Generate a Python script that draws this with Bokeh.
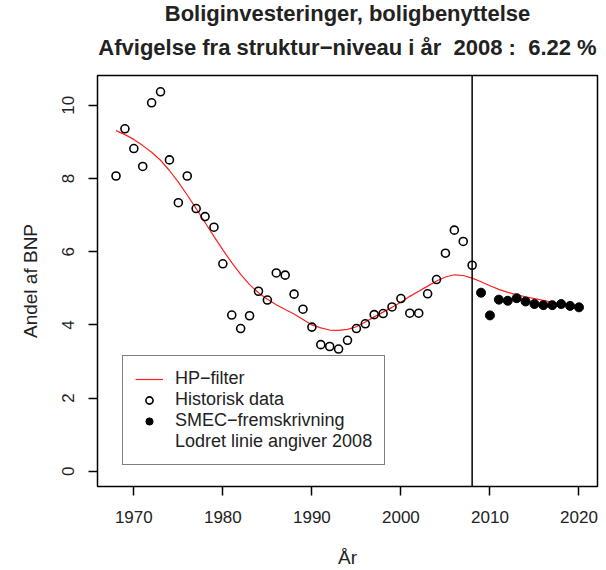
from bokeh.plotting import figure
from bokeh.models import Range1d, Span, Title, Legend, LegendItem, FixedTicker
from bokeh.embed import file_html
from bokeh.resources import INLINE

hist_years = list(range(1968, 2009))
hist_vals = [8.07, 9.36, 8.82, 8.33, 10.07, 10.37, 8.51, 7.34, 8.07, 7.18, 6.96, 6.67,
             5.67, 4.27, 3.90, 4.25, 4.92, 4.68, 5.42, 5.36, 4.84, 4.43, 3.94, 3.46,
             3.41, 3.34, 3.58, 3.90, 4.03, 4.28, 4.31, 4.49, 4.72, 4.32, 4.32, 4.85,
             5.24, 5.96, 6.59, 6.28, 5.63]
fc_years = list(range(2009, 2021))
fc_vals = [4.88, 4.26, 4.69, 4.66, 4.73, 4.64, 4.57, 4.54, 4.54, 4.57, 4.52, 4.48]
hp_years = list(range(1968, 2021))
hp_vals = [9.31, 9.20, 9.07, 8.90, 8.72, 8.50, 8.22, 7.90, 7.55, 7.18, 6.80, 6.42,
           6.05, 5.70, 5.38, 5.10, 4.88, 4.70, 4.55, 4.42, 4.30, 4.15, 4.00, 3.92,
           3.86, 3.85, 3.88, 3.95, 4.08, 4.22, 4.35, 4.48, 4.62, 4.78, 4.92, 5.06,
           5.20, 5.31, 5.37, 5.35, 5.28, 5.18, 5.07, 4.97, 4.89, 4.82, 4.77, 4.72,
           4.67, 4.62, 4.57, 4.51, 4.44]
x_ticks = [1970, 1980, 1990, 2000, 2010, 2020]
y_ticks = [0, 2, 4, 6, 8, 10]
ref_year = 2008
title1 = "Boliginvesteringer, boligbenyttelse"
title2 = "Afvigelse fra struktur\u2212niveau i år\u00a0 2008 :\u00a0 6.22 %"

FONT = "Liberation Sans"
TXT = "#222222"

p = figure(width=606, height=570, output_backend="svg", toolbar_location=None,
           x_range=Range1d(1965.92, 2022.08), y_range=Range1d(-0.416, 10.816),
           min_border_left=97, min_border_right=9, min_border_top=75, min_border_bottom=83)
p.background_fill_color = "white"
p.border_fill_color = "white"
p.outline_line_color = "black"
p.outline_line_width = 1.5
p.xgrid.visible = False
p.ygrid.visible = False

for ax in (p.xaxis[0], p.yaxis[0]):
    ax.axis_line_color = None
    ax.major_tick_out = 9
    ax.major_tick_in = 0
    ax.major_tick_line_width = 1.5
    ax.minor_tick_line_color = None
    ax.major_label_text_font = FONT
    ax.major_label_text_font_size = "17px"
    ax.major_label_text_color = TXT
    ax.axis_label_text_font = FONT
    ax.axis_label_text_font_size = "19px"
    ax.axis_label_text_font_style = "normal"
    ax.axis_label_text_color = TXT

p.xaxis.ticker = FixedTicker(ticks=x_ticks)
p.yaxis.ticker = FixedTicker(ticks=y_ticks)
p.xaxis.major_label_standoff = 15
p.yaxis.major_label_standoff = 14
p.yaxis.major_label_orientation = "vertical"
p.xaxis.axis_label = "År"
p.yaxis.axis_label = "Andel af BNP"
p.xaxis.axis_label_standoff = 21
p.yaxis.axis_label_standoff = 19

hp = p.line(hp_years, hp_vals, line_color="#ff2020", line_width=1.2)
hist = p.scatter(hist_years, hist_vals, marker="circle", size=8, fill_color=None,
                 line_color="black", line_width=1.6)
fc = p.scatter(fc_years, fc_vals, marker="circle", size=9, fill_color="black",
               line_color="black")
dummy = p.scatter(x=[], y=[], marker="circle", size=1, fill_alpha=0, line_alpha=0)

p.add_layout(Span(location=ref_year, dimension="height", line_color="black", line_width=1.5))

legend = Legend(items=[
    LegendItem(label="HP\u2212filter", renderers=[hp]),
    LegendItem(label="Historisk data", renderers=[hist]),
    LegendItem(label="SMEC\u2212fremskrivning", renderers=[fc]),
    LegendItem(label="Lodret linie angiver 2008", renderers=[dummy]),
], location=(25, 21))
legend.border_line_color = "black"
legend.border_line_width = 1.5
legend.background_fill_alpha = 1
legend.label_text_font = FONT
legend.label_text_font_size = "18px"
legend.label_text_color = TXT
legend.glyph_height = 18
legend.glyph_width = 28
legend.label_height = 18
legend.spacing = 0
legend.padding = 12
legend.margin = 0
legend.label_standoff = 12
p.add_layout(legend, "center")

p.add_layout(Title(text=title2, align="center", text_font=FONT, text_font_size="22px",
                   text_font_style="bold", text_color=TXT, standoff=32), "above")
p.add_layout(Title(text=title1, align="center", text_font=FONT, text_font_size="22px",
                   text_font_style="bold", text_color=TXT, standoff=-18), "above")

open("out.html", "w").write(file_html(p, INLINE))
